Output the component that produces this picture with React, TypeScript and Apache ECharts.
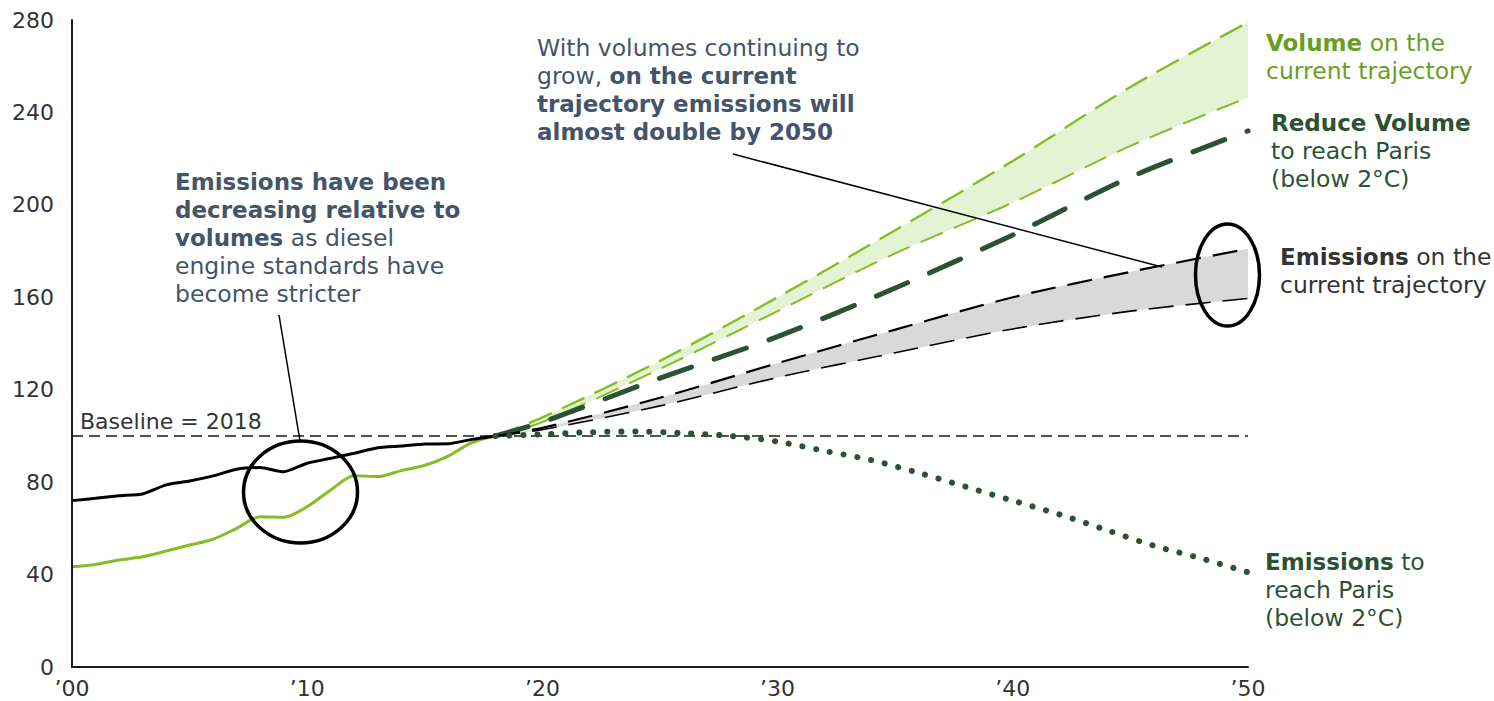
import React, { useEffect, useRef } from "react";
import * as echarts from "echarts";

// Historical (2000-2018), index 2018 = 100
const histYears = [2000, 2001, 2002, 2003, 2004, 2005, 2006, 2007, 2008, 2009, 2010, 2011, 2012, 2013, 2014, 2015, 2016, 2017, 2018];
const histEmissions = [72.0, 73.0, 74.1, 74.9, 78.8, 80.5, 82.7, 85.6, 86.3, 84.5, 88.2, 90.3, 92.5, 94.9, 95.6, 96.5, 96.6, 98.5, 100];
const histVolume = [43.4, 44.4, 46.3, 47.7, 50.2, 52.8, 55.3, 60.0, 65.0, 64.8, 69.4, 76.6, 82.8, 82.4, 85.0, 87.3, 91.3, 97.1, 100];

// Projections (2018-2050)
const projYears = [2018, 2020, 2025, 2030, 2035, 2040, 2045, 2050];
const volumeHigh = [100, 108, 132.5, 160, 189, 219, 251, 279];
const volumeLow = [100, 106, 129, 154, 179, 201, 225.5, 246.5];
const reduceVolume = [100, 106, 125, 143, 164, 187, 212, 232];
const emissionsHigh = [100, 103.5, 116.5, 131.5, 146, 160, 171, 181];
const emissionsLow = [100, 102.7, 113, 125.3, 136, 146.3, 154, 159.5];

const parisYears = [2018, 2020, 2022, 2024, 2026, 2028, 2030, 2032, 2034, 2036, 2038, 2040, 2042, 2044, 2046, 2048, 2050];
const parisEmissions = [100, 100.7, 101.6, 101.9, 101.2, 100, 97.5, 93.5, 89.5, 84, 78, 72, 66, 59.2, 52.5, 47, 41];

const baselineValue = 100;
const xTicks = [2000, 2010, 2020, 2030, 2040, 2050];

const FONT = '"DejaVu Sans", Verdana, sans-serif';
const LIGHT_GREEN = "#86bc25";
const DARK_GREEN = "#2c5234";
const SLATE = "#44546a";
const ANN_SIZE = 23.5;
const BOLD_SIZE = 23;

const pairs = (xs: number[], ys: number[]) => xs.map((x, i) => [x, ys[i]]);

export default function App() {
  const ref = useRef<HTMLDivElement>(null);
  useEffect(() => {
    if (!ref.current) return;
    const chart = echarts.init(ref.current, null, { renderer: "svg" });
    const rich = (color: string) => ({
      b: { fontWeight: "bold", fontSize: BOLD_SIZE, fontFamily: FONT, fill: color, lineHeight: 28 },
      n: { fontWeight: "normal", fontSize: ANN_SIZE, fontFamily: FONT, fill: color, lineHeight: 28 },
    });
    const textEl = (left: number, top: number, text: string, color: string, size = ANN_SIZE) => ({
      type: "text",
      left,
      top,
      z: 100,
      style: {
        text,
        fill: color,
        fontSize: size,
        fontFamily: FONT,
        lineHeight: 28,
        rich: rich(color),
      },
    });
    // band fill: coloured area above the baseline under the upper line, covered by a white area under the lower line
    const bandArea = (ys: number[], color: string, z: number) => ({
      type: "line",
      data: pairs(projYears, ys),
      smooth: 0.3,
      symbol: "none",
      lineStyle: { width: 0, color },
      itemStyle: { color },
      areaStyle: { color, opacity: 1, origin: baselineValue },
      silent: true,
      z,
    });
    const option: any = {
      animation: false,
      backgroundColor: "#ffffff",
      grid: { left: 72, right: 246, top: 20, bottom: 34, containLabel: false },
      xAxis: {
        type: "value",
        min: 2000,
        max: 2050,
        interval: 10,
        z: 20,
        axisLine: { show: true, lineStyle: { color: "#1a1a1a", width: 2 } },
        axisTick: { show: false },
        splitLine: { show: false },
        axisLabel: {
          color: "#333333",
          fontSize: 22,
          fontFamily: FONT,
          margin: 10,
          formatter: (v: number) => (xTicks.includes(v) ? "\u2019" + String(v).slice(2) : ""),
        },
      },
      yAxis: {
        type: "value",
        min: 0,
        max: 280,
        interval: 40,
        z: 20,
        axisLine: { show: true, lineStyle: { color: "#1a1a1a", width: 2 } },
        axisTick: { show: false },
        splitLine: { show: false },
        axisLabel: { color: "#333333", fontSize: 22, fontFamily: FONT, margin: 18 },
      },
      series: [
        bandArea(volumeHigh, "#e4f3d3", 1),
        bandArea(volumeLow, "#ffffff", 1.1),
        bandArea(emissionsHigh, "#d9d9d9", 1.2),
        bandArea(emissionsLow, "#ffffff", 1.3),
        {
          type: "line",
          data: [[2000, baselineValue], [2050, baselineValue]],
          symbol: "none",
          lineStyle: { color: "#1a1a1a", width: 1.5, type: [11, 6] },
          silent: true,
          z: 2,
        },
        {
          type: "line",
          data: pairs(histYears, histVolume),
          smooth: 0.3,
          symbol: "none",
          lineStyle: { color: LIGHT_GREEN, width: 3 },
          z: 3,
        },
        {
          type: "line",
          data: pairs(histYears, histEmissions),
          smooth: 0.2,
          symbol: "none",
          lineStyle: { color: "#000000", width: 3 },
          z: 3,
        },
        {
          type: "line",
          data: pairs(projYears, volumeHigh),
          smooth: 0.3,
          symbol: "none",
          lineStyle: { color: LIGHT_GREEN, width: 2.4, type: [25, 11] },
          z: 4,
        },
        {
          type: "line",
          data: pairs(projYears, volumeLow),
          smooth: 0.3,
          symbol: "none",
          lineStyle: { color: LIGHT_GREEN, width: 2, type: [24, 12] },
          z: 4,
        },
        {
          type: "line",
          data: pairs(projYears, reduceVolume),
          smooth: 0.3,
          symbol: "none",
          lineStyle: { color: DARK_GREEN, width: 5, type: [34, 24], cap: "round" },
          z: 4,
        },
        {
          type: "line",
          data: pairs(projYears, emissionsHigh),
          smooth: 0.3,
          symbol: "none",
          lineStyle: { color: "#000000", width: 2.2, type: [25, 12] },
          z: 4,
        },
        {
          type: "line",
          data: pairs(projYears, emissionsLow),
          smooth: 0.3,
          symbol: "none",
          lineStyle: { color: "#000000", width: 1.6, type: [25, 12] },
          z: 4,
        },
        {
          type: "line",
          data: pairs(parisYears, parisEmissions),
          smooth: 0.3,
          symbol: "none",
          lineStyle: { color: DARK_GREEN, width: 6, type: [0.1, 13.9], cap: "round" },
          z: 5,
        },
      ],
      graphic: [
        {
          type: "ellipse",
          shape: { cx: 300.5, cy: 492, rx: 57, ry: 51 },
          style: { fill: "none", stroke: "#000000", lineWidth: 3.5 },
          z: 50,
        },
        {
          type: "ellipse",
          shape: { cx: 1227.5, cy: 275, rx: 32, ry: 51 },
          style: { fill: "none", stroke: "#000000", lineWidth: 3.5 },
          z: 50,
        },
        {
          type: "line",
          shape: { x1: 279, y1: 315, x2: 300, y2: 441 },
          style: { stroke: "#000000", lineWidth: 1.5 },
          z: 50,
        },
        {
          type: "line",
          shape: { x1: 733, y1: 154, x2: 1162, y2: 267 },
          style: { stroke: "#000000", lineWidth: 1.5 },
          z: 50,
        },
        textEl(80, 407, "Baseline = 2018", "#333333", 22),
        textEl(
          175,
          168,
          "{b|Emissions have been}\n{b|decreasing relative to}\n{b|volumes}{n| as diesel}\n{n|engine standards have}\n{n|become stricter}",
          SLATE
        ),
        textEl(
          537,
          34,
          "{n|With volumes continuing to}\n{n|grow, }{b|on the current}\n{b|trajectory emissions will}\n{b|almost double by 2050}",
          SLATE
        ),
        textEl(1266, 29, "{b|Volume}{n| on the}\n{n|current trajectory}", "#6a9e23"),
        textEl(1271, 109, "{b|Reduce Volume}\n{n|to reach Paris}\n{n|(below 2°C)}", DARK_GREEN),
        textEl(1280, 243, "{b|Emissions}{n| on the}\n{n|current trajectory}", "#333333"),
        textEl(1265, 548, "{b|Emissions}{n| to}\n{n|reach Paris}\n{n|(below 2°C)}", DARK_GREEN),
      ],
    };
    chart.setOption(option);
    return () => chart.dispose();
  }, []);
  return (
    <div
      ref={ref}
      style={{ position: "fixed", left: 0, top: 0, width: 1494, height: 701, background: "#fff" }}
    />
  );
}
